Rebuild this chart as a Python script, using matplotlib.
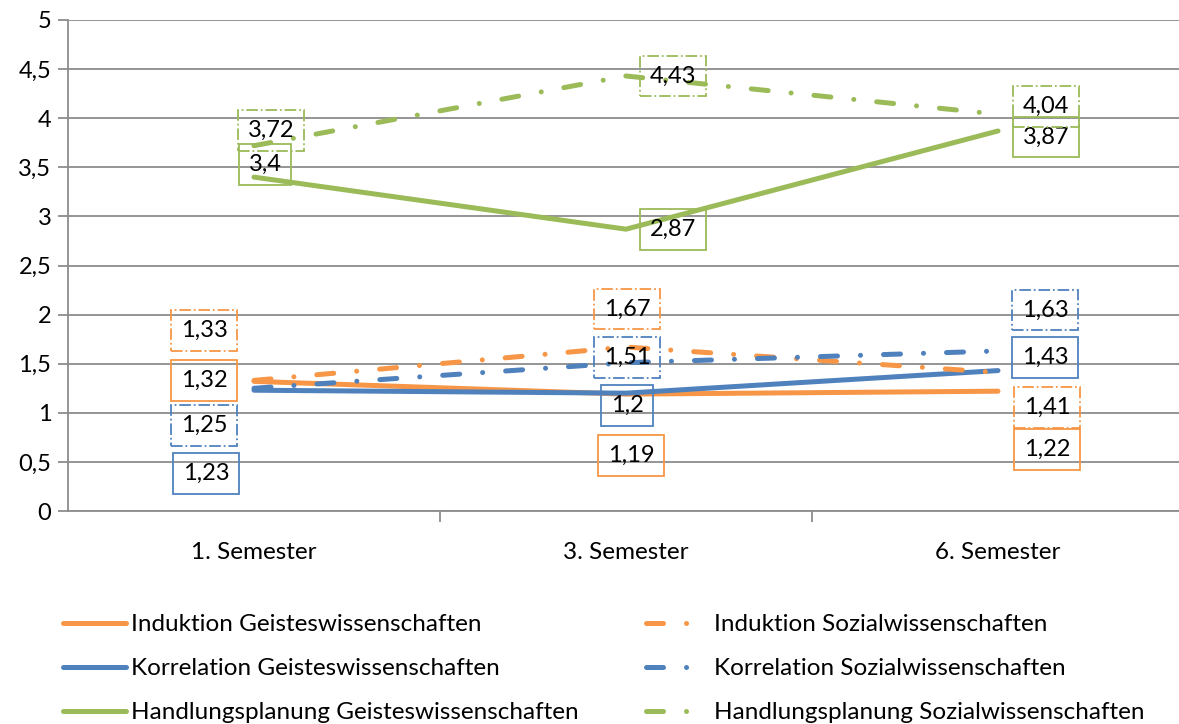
import matplotlib.pyplot as plt
import matplotlib.ticker as mticker

plt.rcParams['font.family'] = ['Lato', 'DejaVu Sans']

semester = ['1. Semester', '3. Semester', '6. Semester']

ind_geist = [1.32, 1.19, 1.22]
ind_sozial = [1.33, 1.67, 1.41]
kor_geist = [1.23, 1.20, 1.43]
kor_sozial = [1.25, 1.51, 1.63]
hand_geist = [3.40, 2.87, 3.87]
hand_sozial = [3.72, 4.43, 4.04]

orange = '#F79646'
blue = '#4F81BD'
green = '#9BBB59'
grau = '#8C8C8C'

# label-offsets in pixeln (dx, dy) je punkt
off_ind_geist = [(-50, 1), (5, -61), (49, -58)]
off_ind_sozial = [(-50, 50), (1, 38), (49, -35)]
off_kor_geist = [(-48, -83), (1, -12), (47, 13)]
off_kor_sozial = [(-50, -37), (1, 5), (47, 41)]
off_hand_geist = [(11, 13), (47, 0), (48, -6)]
off_hand_sozial = [(17, 15), (47, 0), (48, 8)]

fig = plt.figure(figsize=(11.79, 7.24), dpi=100)
ax = fig.add_axes([68/1179, 1-511/724, 1-68/1179, (511-20)/724])

x = range(len(semester))
lw = 3.6
dashdot = (0, (3.4, 4.6, 0.01, 4.6))

serien = [
    (ind_geist, orange, '-', 'Induktion Geisteswissenschaften', off_ind_geist),
    (kor_geist, blue, '-', 'Korrelation Geisteswissenschaften', off_kor_geist),
    (hand_geist, green, '-', 'Handlungsplanung Geisteswissenschaften', off_hand_geist),
    (ind_sozial, orange, dashdot, 'Induktion Sozialwissenschaften', off_ind_sozial),
    (kor_sozial, blue, dashdot, 'Korrelation Sozialwissenschaften', off_kor_sozial),
    (hand_sozial, green, dashdot, 'Handlungsplanung Sozialwissenschaften', off_hand_sozial),
]

for werte, farbe, stil, name, offs in serien:
    ax.plot(x, werte, color=farbe, linestyle=stil, lw=lw, label=name,
            dash_capstyle='round', solid_capstyle='round', zorder=3)
    boxstil = '-' if stil == '-' else '-.'
    for i, v in enumerate(werte):
        txt = ('%g' % v).replace('.', ',')
        ax.annotate(txt, (i, v), xytext=offs[i], textcoords='offset pixels',
                    ha='center', va='center', fontsize=17, zorder=4,
                    bbox=dict(boxstyle='square,pad=0.42', fc='none', ec=farbe,
                              lw=1.3, linestyle=boxstil))

ax.set_xlim(-0.5, -0.5 + 1111/372)
ax.set_ylim(0, 5)
ax.set_yticks([i * 0.5 for i in range(11)])
ax.yaxis.set_major_formatter(mticker.FuncFormatter(lambda v, p: ('%g' % v).replace('.', ',')))
ax.set_xticks(list(x))
ax.set_xticklabels(semester)
ax.set_xticks([0.5, 1.5], minor=True)
ax.tick_params(axis='x', which='major', length=0, pad=22, labelsize=17.5)
ax.tick_params(axis='x', which='minor', length=8, color=grau, width=1.3)
ax.tick_params(axis='y', length=7, color=grau, width=1.3, labelsize=17, pad=5)

ax.grid(axis='y', color=grau, lw=1.3, zorder=0)
for s in ['top', 'right']:
    ax.spines[s].set_visible(False)
ax.spines['left'].set_color(grau)
ax.spines['left'].set_linewidth(1.3)
ax.spines['bottom'].set_color(grau)
ax.spines['bottom'].set_linewidth(1.3)

fig.legend(loc='upper left', bbox_to_anchor=(63/1179, 1-614/724), ncol=2,
           frameon=False, fontsize=17.5, handlelength=2.6, handletextpad=0.2,
           columnspacing=2.75, labelspacing=0.95, borderpad=0, borderaxespad=0)

fig.savefig('out.png', dpi=100)
